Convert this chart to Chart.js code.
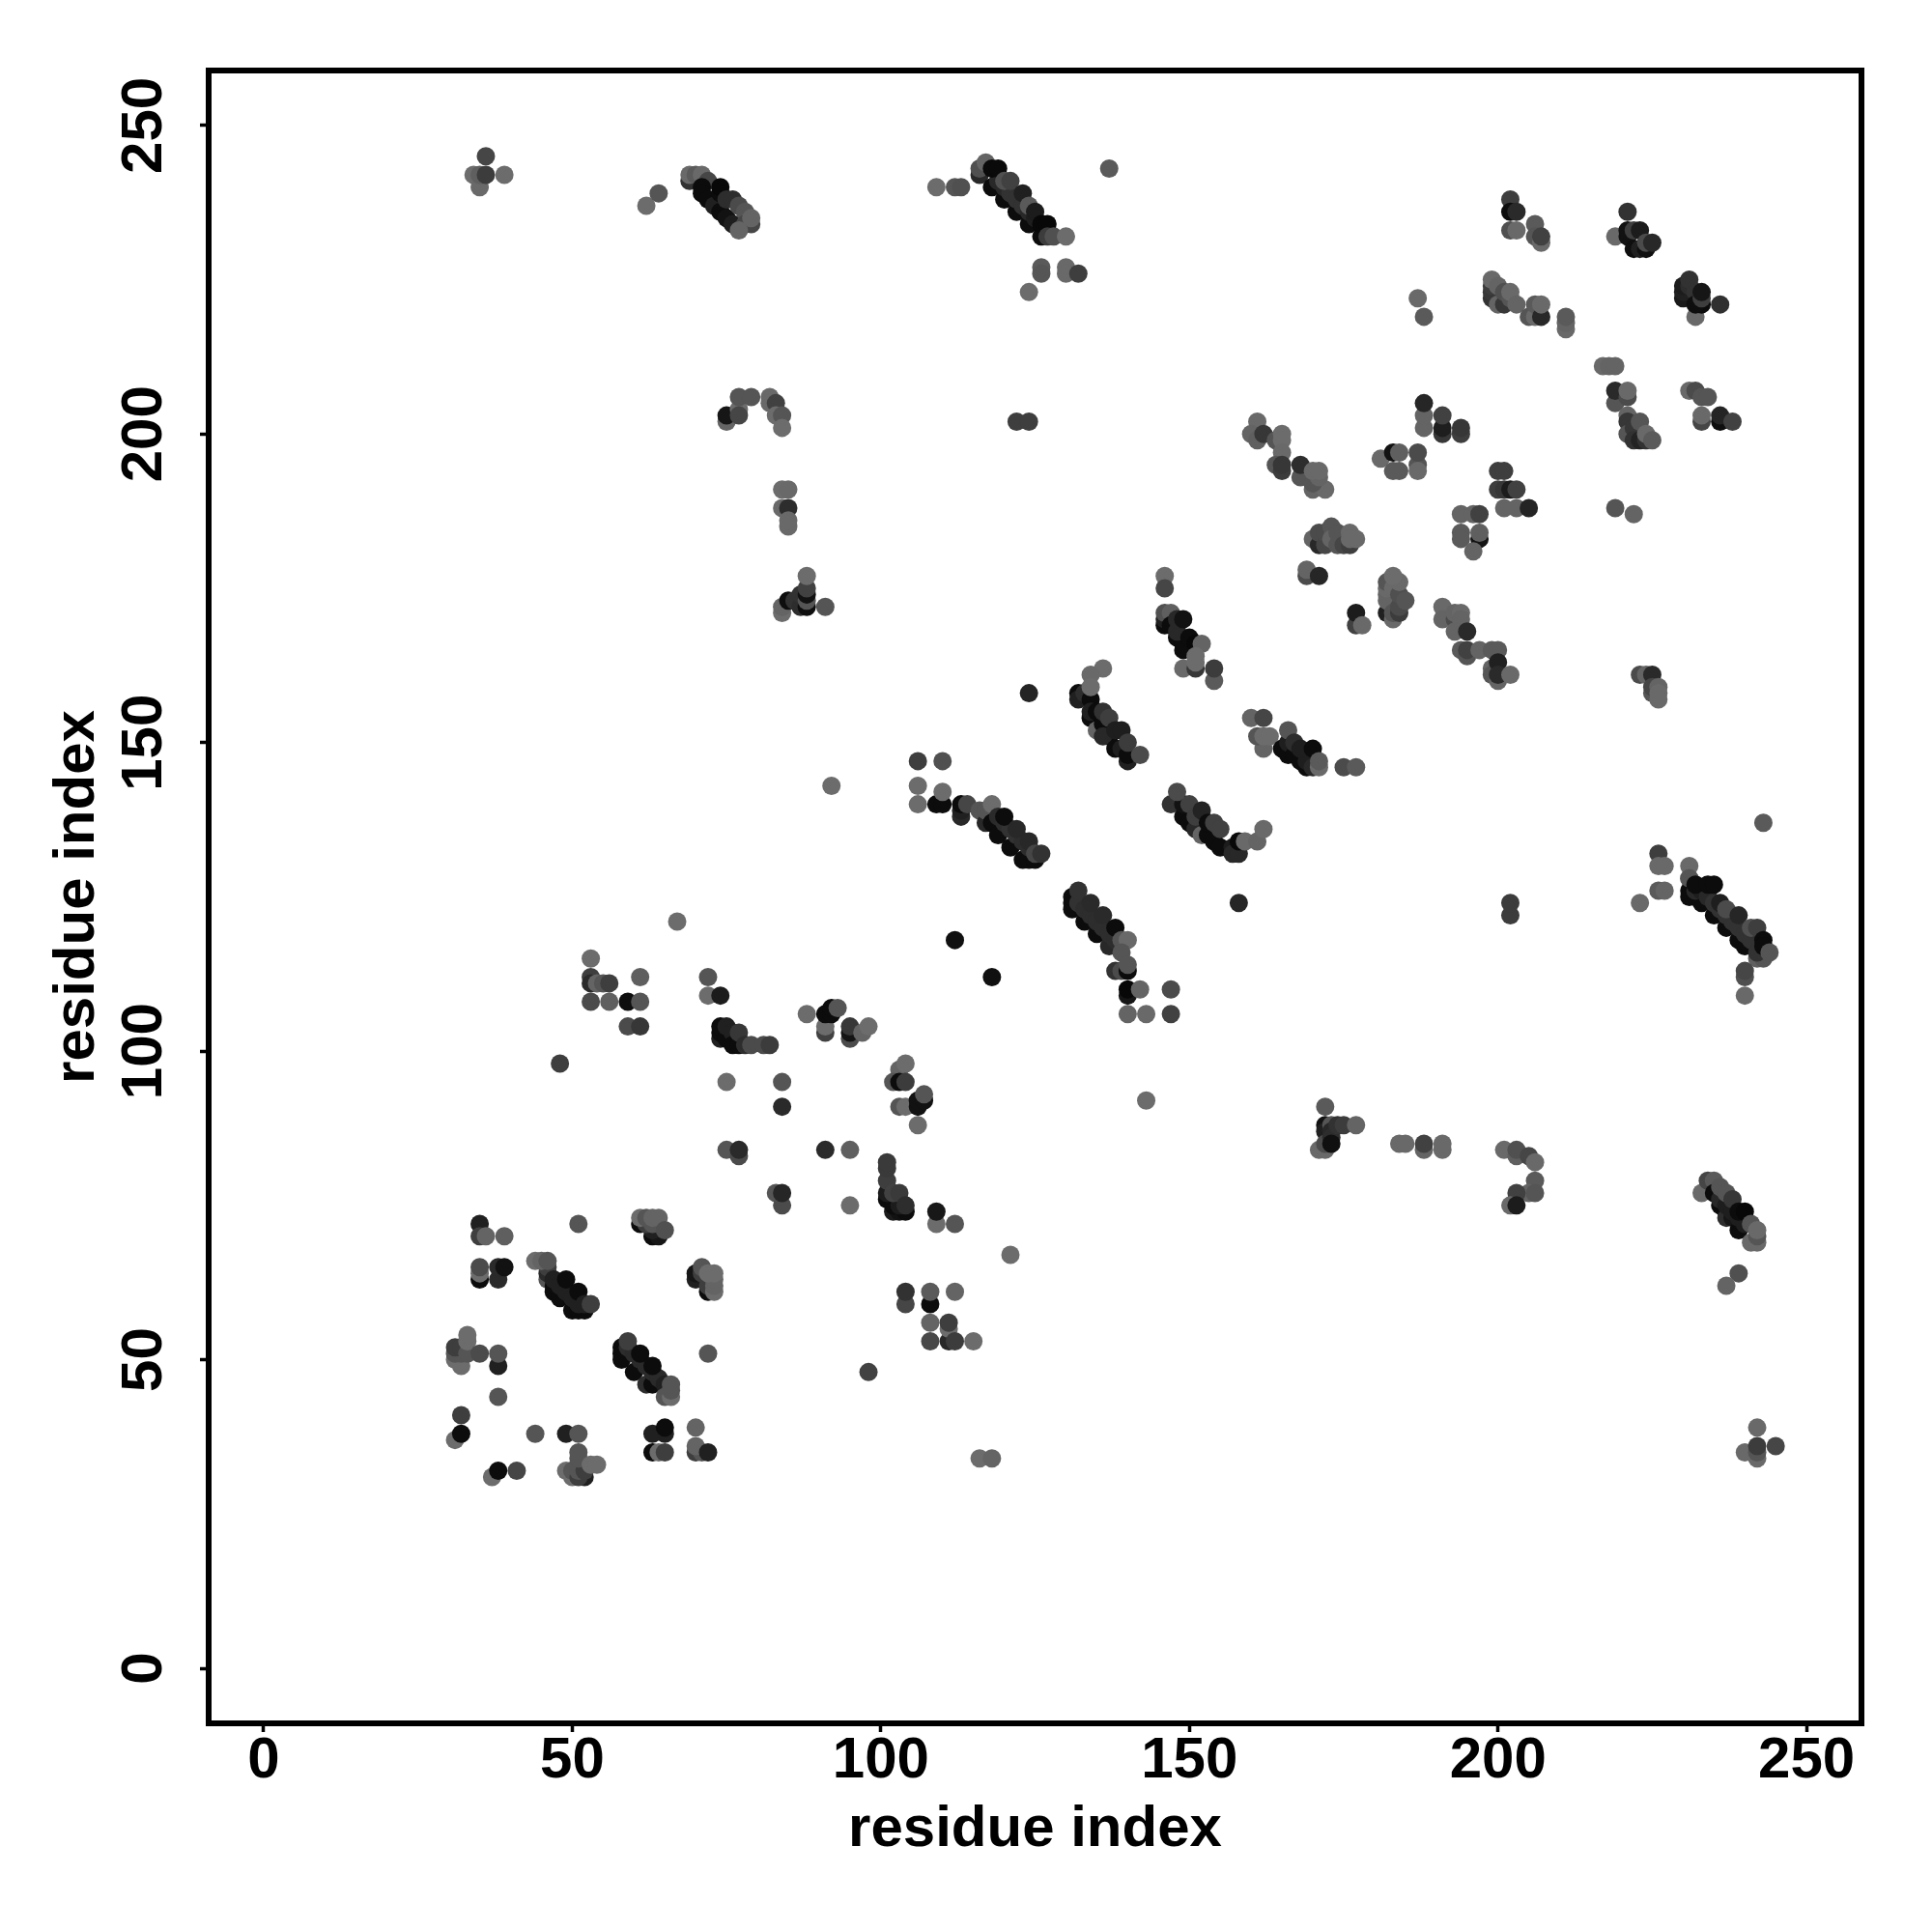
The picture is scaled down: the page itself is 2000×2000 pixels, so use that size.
<!DOCTYPE html>
<html>
<head>
<meta charset="utf-8">
<title>residue contacts</title>
<script src="https://cdn.jsdelivr.net/npm/chart.js@4"></script>
<style>
    html, body { margin: 0; padding: 0; background: #fff; }
    canvas { display: block; }
</style>
</head>
<body>
<canvas id="contact-map" width="2000" height="2000"></canvas>
<script>
// values, one line per cluster, drawn in this order
const residueX = [
    31,32,31,32,31,32,33,33,33,35,38,38,38,
    32,31,32,37,38,41,44,49,51,
    49,50,50,52,51,51,51,52,51,51,53,54,
    65,63,65,63,64,65,70,70,71,70,72,
    35,35,36,39,35,35,35,38,38,39,51,
    46,46,46,44,45,46,47,47,48,50,51,52,47,48,49,50,51,49,51,52,53,
    61,63,64,63,62,63,61,62,63,64,65,
    70,70,71,71,72,72,73,73,73,72,73,
    58,58,58,60,62,63,59,60,61,62,63,64,59,61,63,65,65,66,66,66,
    75,77,77,91,95,83,84,84,95,72,98,
    53,53,53,54,55,56,61,53,56,59,61,59,61,48,67,72,72,74,
    74,74,74,75,75,76,76,77,77,78,79,81,82,
    88,91,91,91,92,92,93,95,95,95,97,98,
    75,84,84,103,104,102,103,104,103,104,106,106,107,107,106,
    101,102,103,104,102,101,103,101,101,101,102,103,104,
    109,109,112,121,104,104,108,108,112,108,111,111,111,108,112,115,116,118,
    106,110,92,106,106,109,110,110,
    113,113,113,114,116,117,117,118,118,119,121,123,124,125,119,120,121,122,123,124,120,122,124,125,126,
    131,131,131,133,135,137,132,133,134,135,136,137,138,132,134,136,138,139,140,139,138,139,140,140,
    140,140,142,147,140,143,147,112,118,158,143,
    147,149,150,151,152,153,154,155,149,150,151,152,153,154,155,148,157,157,158,158,159,161,162,
    160,162,162,161,162,163,165,166,166,166,167,167,168,169,169,170,168,170,171,171,175,177,
    146,146,146,146,146,147,147,148,149,149,148,150,148,149,151,152,149,151,151,151,154,154,
    132,132,133,134,136,134,134,134,134,135,135,136,137,136,136,137,138,139,138,139,140,140,140,142,
    84,84,85,86,87,87,88,88,88,88,88,91,124,
    62,64,69,69,70,71,72,71,71,72,73,74,75,76,74,74,75,76,77,78,79,78,79,77,
    109,112,113,116,116,117,118,120,122,124,126,119,120,121,122,123,124,125,118,119,120,121,123,124,125,126,127,127,128,130,126,126,130,130,132,124,137,
    34,35,35,36,36,39,
    75,75,77,77,77,79,82,82,83,83,84,84,122,124,84,85,84,85,85,85,
    161,160,161,162,164,165,165,165,164,165,165,168,168,170,172,170,171,170,171,
    181,183,184,183,184,187,187,187,188,188,188,191,191,191,194,194,
    200,201,200,201,202,203,201,203,205,
    194,196,197,194,194,197,197,196,
    170,171,171,172,172,173,173,174,174,175,176,176,176,177,
    169,169,171,177,177,178,
    182,182,182,182,182,183,183,183,184,184,184,185,184,183,
    191,191,193,193,194,193,194,195,194,195,195,197,199,200,199,199,200,200,200,202,
    219,222,223,224,225,225,225,226,226,226,
    243,226,226,227,226,227,223,231,231,
    231,231,232,233,235,237,239,240,231,232,233,234,235,236,237,238,239,240,241,232,234,235,236,237,239,241,242,242,243,243,242,243,244,
    240,240,240,202,202,172,171,172,172,172,172,173,173,173,173,174,175,177,
    184,185,188,188,191,191,201,203,203,205,206,206,205,206,203,202,203,
    233,234,235,235,236,237,237,238,239,236,237,238,239,240,236,237,238,239,240,241,241,242,242,242,
    239,237,242,240,242,242,242,245,
    202,202,203,202,203,206,206,207,207,
    221,219,221,221,222,223,222,223,224,224,225,
    232,230,230,230,231,231,232,233,232,233,233,236,
    187,188,199,199,199,199,200,200,201,201,202,202,203,205,206,206,207,207,211,211,211,
    217,218,219,219,219,221,221,221,221,221,222,222,223,223,224,224,225,
    231,232,233,234,233,233,236,236,238
];
const residueY = [
    50,49,51,51,52,52,51,53,54,51,49,51,44,
    41,37,38,31,32,32,38,38,38,
    32,31,32,31,31,32,33,32,34,35,33,33,
    38,38,39,35,35,35,39,35,35,36,35,
    72,70,70,70,63,64,65,63,65,65,72,
    63,64,65,66,66,66,62,61,60,58,58,58,63,62,61,60,59,63,61,59,59,
    72,70,70,71,72,72,73,73,73,73,71,
    63,64,64,65,61,62,61,62,63,64,64,
    52,51,50,48,46,46,52,51,50,49,48,47,53,51,49,46,44,44,45,46,
    84,83,84,84,84,77,75,77,75,51,48,
    115,112,111,111,111,111,112,108,108,108,108,104,104,98,121,112,109,109,
    102,103,104,102,104,103,101,101,103,101,101,101,101,
    106,103,104,106,106,107,107,102,103,104,103,104,
    95,95,91,97,98,95,95,95,91,91,91,92,92,93,88,
    76,74,74,74,75,77,75,79,81,82,77,77,75,
    72,74,72,67,59,61,59,61,61,56,53,55,56,53,53,53,34,34,
    147,147,143,143,140,140,140,142,
    138,139,140,140,139,137,139,140,137,135,133,131,131,131,138,137,136,135,134,133,138,136,134,132,132,
    123,124,125,121,119,117,124,123,122,121,120,119,118,126,124,122,120,118,118,116,113,113,113,114,
    109,110,110,110,106,106,106,118,112,124,92,
    140,138,137,136,135,135,134,133,140,140,138,139,137,137,136,142,133,132,132,134,134,134,136,
    154,154,149,151,151,151,149,148,150,152,148,150,147,146,147,146,149,149,146,147,146,146,
    177,175,169,170,171,171,169,167,165,166,168,167,170,170,166,166,162,162,163,164,160,162,
    158,157,158,157,162,161,159,154,155,155,152,153,151,151,155,154,149,149,152,152,147,148,150,148,
    171,172,173,173,172,174,172,173,174,175,177,172,158,
    237,239,241,242,242,242,241,240,239,238,237,236,235,234,239,240,238,238,237,236,234,234,235,233,
    240,240,240,242,243,244,240,238,236,234,232,241,240,239,238,237,236,235,243,243,241,241,239,237,236,234,234,232,232,232,227,226,227,226,226,223,243,
    242,240,242,242,245,242,
    202,203,204,206,203,206,206,205,205,203,203,201,202,202,191,191,188,188,185,186,
    202,200,199,200,199,200,199,197,195,194,195,193,195,191,191,192,193,194,194,
    196,197,197,194,194,195,194,197,201,203,205,200,201,203,200,201,
    194,194,191,191,191,191,188,188,188,
    187,187,187,184,183,183,184,181,
    183,182,184,182,184,185,183,182,184,182,182,184,183,183,
    177,178,177,169,171,169,
    171,173,174,175,176,170,171,175,171,172,174,173,176,177,
    172,170,170,171,171,168,170,168,165,164,165,165,165,165,162,161,160,163,161,161,
    188,187,161,161,161,158,159,159,158,157,
    137,132,130,130,126,126,124,130,128,
    126,125,125,124,122,120,118,117,128,126,126,125,124,123,122,121,120,119,118,127,127,127,124,123,122,120,120,115,115,118,116,117,116,
    109,112,113,122,124,91,84,84,88,87,85,88,87,86,85,88,88,88,
    85,85,84,85,84,85,84,83,84,83,82,79,77,77,77,75,75,
    77,79,79,77,75,74,73,73,71,76,75,74,73,72,78,77,76,74,74,72,69,69,70,71,
    64,62,39,35,34,35,36,36,
    238,236,236,233,233,234,232,231,232,
    236,232,232,233,233,233,230,230,230,231,231,
    219,222,223,224,224,225,223,221,221,222,223,221,
    222,219,222,223,224,225,224,221,221,223,222,223,221,219,219,221,219,221,217,218,219,
    211,211,211,205,207,206,207,203,202,200,201,199,202,199,199,200,199,
    207,207,206,206,202,203,202,203,202
];
const grayLevel = [
    108,108,85,85,62,62,85,108,108,75,32,85,85,
    62,108,12,108,12,70,85,32,85,
    108,108,85,32,62,85,85,62,85,85,108,108,
    32,32,12,12,108,62,100,62,85,100,32,
    32,62,100,95,12,108,75,42,42,18,85,
    85,42,62,108,100,85,12,12,12,12,12,12,32,32,32,32,32,12,12,32,62,
    12,12,22,32,62,85,108,85,100,100,80,
    32,22,62,85,12,62,108,100,100,108,108,
    12,12,12,12,45,12,45,42,42,42,42,42,62,12,12,32,85,108,85,85,
    85,75,42,42,95,85,75,38,108,85,65,
    108,62,42,100,85,62,95,75,95,14,85,75,55,62,108,85,108,28,
    32,12,12,12,32,32,12,12,55,45,75,75,60,
    108,65,108,12,12,12,85,75,20,55,100,108,
    108,85,42,100,108,85,12,60,85,108,18,18,18,85,108,
    12,28,18,12,12,28,28,62,58,58,65,58,45,
    108,24,85,108,70,50,12,90,100,100,40,108,62,72,60,108,108,100,
    62,80,108,108,108,12,12,108,
    40,32,12,70,85,40,85,108,12,12,12,12,12,12,42,45,50,50,45,45,12,40,40,70,50,
    12,12,12,12,12,40,50,45,45,45,45,45,45,50,42,42,12,85,105,85,50,75,12,85,
    22,8,100,75,100,105,65,16,16,38,108,
    50,12,12,40,100,12,12,12,18,65,62,35,12,65,65,75,28,40,40,8,105,100,105,
    100,70,100,85,108,108,12,12,30,85,12,45,12,12,30,40,30,12,105,90,75,90,
    108,70,12,32,80,95,12,12,12,12,40,12,40,18,8,100,105,55,108,108,90,60,
    12,32,45,12,108,105,108,12,32,12,100,12,12,40,50,62,12,30,30,30,32,12,60,75,
    108,100,14,50,45,50,14,85,18,65,108,85,36,
    108,85,50,105,90,105,70,12,12,12,32,12,18,30,12,8,45,45,75,85,70,70,100,100,
    108,85,80,40,80,100,12,12,12,12,12,40,40,50,50,50,40,30,10,10,80,65,32,90,28,8,8,60,80,108,90,85,105,105,62,108,90,
    108,105,95,60,70,108,
    100,22,108,85,70,85,105,105,65,108,85,108,62,62,108,105,105,45,105,105,
    105,100,95,55,85,108,108,105,85,60,55,85,45,100,105,85,100,105,105,
    105,18,95,90,90,85,105,75,100,100,38,55,30,65,62,55,
    62,62,62,55,28,65,100,100,36,
    100,100,65,90,90,20,95,100,
    100,40,75,70,75,85,100,85,85,70,62,105,105,105,
    75,100,38,65,28,105,
    32,100,100,105,85,105,85,105,60,75,80,85,105,108,
    105,100,75,100,105,100,100,42,90,85,65,100,90,90,100,85,100,32,42,105,
    85,100,75,100,42,85,70,100,105,105,
    90,62,105,105,90,100,105,105,100,
    12,12,12,12,12,12,12,12,85,40,30,40,50,50,50,50,50,50,50,12,12,12,30,75,38,80,62,95,85,12,50,12,85,
    105,80,70,60,60,90,105,105,18,32,75,85,40,45,16,50,60,100,
    105,105,100,65,105,105,105,95,80,70,105,90,100,85,65,105,28,
    105,70,90,12,12,12,45,22,12,40,30,30,30,30,85,85,55,12,8,85,105,105,85,105,
    80,100,105,105,105,85,60,70,
    62,14,42,80,105,90,85,105,65,
    50,105,18,18,62,28,14,32,16,75,40,
    105,25,32,28,45,50,50,12,14,62,22,48,
    105,90,50,55,60,105,100,100,55,80,85,105,100,85,105,90,40,105,105,100,90,
    105,100,100,85,42,75,105,100,55,85,55,50,85,35,50,105,90,
    105,75,85,85,70,105,14,36,65
];
const tickValues = [0, 50, 100, 150, 200, 250];
const axisLabel = 'residue index';

const axisFont = { family: '"Liberation Sans", Arial, sans-serif', weight: 'bold', size: 60 };

// frame around the plot area, R box() style
const boxFrame = {
    id: 'boxFrame',
    afterDatasetsDraw(chart) {
        const { ctx, chartArea } = chart;
        ctx.save();
        ctx.strokeStyle = '#000';
        ctx.lineWidth = 6;
        ctx.strokeRect(chartArea.left, chartArea.top, chartArea.width, chartArea.height);
        ctx.restore();
    }
};

function makeAxis(extra) {
    return Object.assign({
        type: 'linear',
        min: -8.92,
        max: 258.9,
        afterBuildTicks(scale) {
            scale.ticks = tickValues.map(v => ({ value: v }));
        },
        grid: {
            drawOnChartArea: false,
            drawTicks: true,
            tickLength: 9,
            tickWidth: 3.5,
            tickColor: '#000'
        },
        border: { display: false }
    }, extra);
}

new Chart(document.getElementById('contact-map').getContext('2d'), {
    type: 'scatter',
    data: {
        datasets: [{
            data: residueX.map((x, i) => ({ x: x, y: residueY[i] })),
            pointRadius: 9.5,
            pointBorderWidth: 0,
            pointBackgroundColor: grayLevel.map(g => `rgb(${g},${g},${g})`)
        }]
    },
    options: {
        responsive: false,
        animation: false,
        layout: { padding: { top: 73, right: 73, left: 0, bottom: 0 } },
        plugins: { legend: { display: false }, tooltip: { enabled: false } },
        scales: {
            x: makeAxis({
                afterFit(scale) { scale.height = 216; },
                ticks: { color: '#000', font: axisFont, padding: -6, maxRotation: 0 },
                title: {
                    display: true,
                    text: axisLabel,
                    color: '#000',
                    font: axisFont,
                    padding: { top: 0, bottom: 70 }
                }
            }),
            y: makeAxis({
                afterFit(scale) { scale.width = 216; },
                ticks: {
                    color: '#000',
                    font: axisFont,
                    padding: 6,
                    minRotation: 90,
                    maxRotation: 90,
                    crossAlign: 'center'
                },
                title: {
                    display: true,
                    text: axisLabel,
                    color: '#000',
                    font: axisFont,
                    padding: { top: 44, bottom: 0 }
                }
            })
        }
    },
    plugins: [boxFrame]
});
</script>
</body>
</html>
